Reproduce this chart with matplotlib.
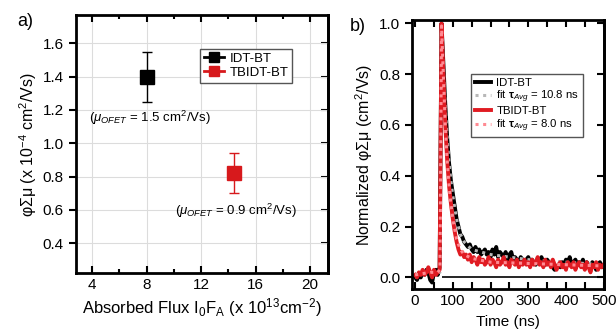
import numpy as np
import matplotlib
matplotlib.use("Agg")
from matplotlib import pyplot as plt
from matplotlib.lines import Line2D
from matplotlib.ticker import MultipleLocator

plt.rcParams["font.family"] = ["Liberation Sans", "DejaVu Sans"]
plt.rcParams["mathtext.fontset"] = "custom"
plt.rcParams["mathtext.rm"] = "Liberation Sans"
plt.rcParams["mathtext.it"] = "Liberation Sans:italic"
plt.rcParams["mathtext.bf"] = "Liberation Sans:bold"

# panel a: phi-sum-mu vs absorbed flux
names = ["IDT-BT", "TBIDT-BT"]
flux = [8.0, 14.4]
phimu = [1.40, 0.82]
phimu_err = [0.15, 0.12]
mu_ofet = [1.5, 0.9]
colors_a = ["black", "#d7191c"]

# panel b: normalized transients, sampled every 5 ns
time_ns = np.arange(0, 505, 5)
idt_bt = [
    0.00, -0.01, 0.01, 0.00, 0.02, 0.01, 0.03, 0.02, -0.01, -0.02,
    0.02, 0.03, 0.01, 0.04, 1.00, 0.84, 0.68, 0.55, 0.45, 0.38,
    0.33, 0.28, 0.23, 0.20, 0.17, 0.16, 0.14, 0.13, 0.12, 0.13,
    0.11, 0.10, 0.12, 0.10, 0.11, 0.09, 0.10, 0.11, 0.09, 0.10,
    0.08, 0.11, 0.09, 0.12, 0.08, 0.10, 0.09, 0.08, 0.10, 0.07,
    0.09, 0.10, 0.07, 0.08, 0.07, 0.06, 0.08, 0.07, 0.06, 0.07,
    0.08, 0.06, 0.07, 0.06, 0.05, 0.07, 0.06, 0.08, 0.06, 0.05,
    0.07, 0.06, 0.05, 0.04, 0.03, 0.04, 0.05, 0.04, 0.06, 0.05,
    0.07, 0.06, 0.08, 0.05, 0.06, 0.07, 0.05, 0.06, 0.05, 0.07,
    0.04, 0.06, 0.05, 0.04, 0.06, 0.05, 0.03, 0.05, 0.06, 0.04,
    0.05,
]
tbidt_bt = [
    0.01, 0.00, 0.02, 0.01, 0.03, 0.01, 0.02, 0.04, 0.02, 0.00,
    0.03, 0.01, 0.02, 0.03, 1.00, 0.80, 0.60, 0.46, 0.36, 0.29,
    0.23, 0.18, 0.14, 0.11, 0.09, 0.10, 0.08, 0.09, 0.07, 0.09,
    0.06, 0.08, 0.07, 0.05, 0.08, 0.06, 0.07, 0.05, 0.06, 0.08,
    0.05, 0.07, 0.06, 0.04, 0.07, 0.05, 0.06, 0.08, 0.05, 0.06,
    0.04, 0.07, 0.06, 0.05, 0.07, 0.04, 0.06, 0.05, 0.07, 0.05,
    0.06, 0.04, 0.07, 0.05, 0.06, 0.08, 0.05, 0.06, 0.04, 0.07,
    0.05, 0.06, 0.04, 0.07, 0.05, 0.03, 0.05, 0.06, 0.04, 0.05,
    0.03, 0.06, 0.05, 0.04, 0.06, 0.03, 0.05, 0.06, 0.04, 0.05,
    0.03, 0.06, 0.04, 0.02, 0.05, 0.04, 0.06, 0.03, 0.05, 0.04,
    0.05,
]
fit_t = [0, 20, 40, 60, 66, 70, 75, 80, 85, 90, 95, 100, 110, 120, 130, 150, 200, 300, 400, 500]
fit_idt = [0.00, 0.01, 0.01, 0.02, 0.02, 0.99, 0.82, 0.67, 0.55, 0.45,
           0.38, 0.32, 0.23, 0.17, 0.14, 0.11, 0.09, 0.07, 0.06, 0.05]
fit_tbidt = [0.01, 0.015, 0.02, 0.02, 0.03, 0.99, 0.79, 0.60, 0.46, 0.36,
             0.29, 0.23, 0.15, 0.11, 0.09, 0.075, 0.06, 0.055, 0.05, 0.045]
tau_avg = [10.8, 8.0]


def style_axes(a, yticks):
    # left ticks point out, the other three sides point in
    for s in a.spines.values():
        s.set_linewidth(2)
    a.tick_params(axis="y", which="both", direction="out", length=5, width=1.5,
                  labelsize=11, right=False)
    a.tick_params(axis="x", which="major", direction="in", length=5, width=1.5,
                  labelsize=11, top=True)
    a.tick_params(axis="x", which="minor", direction="in", length=3, width=1.5, top=True)
    sec = a.secondary_yaxis("right")
    sec.set_yticks(yticks)
    sec.tick_params(direction="in", length=5, width=1.5, labelright=False)
    sec.spines["right"].set_linewidth(2)


fig = plt.figure(figsize=(6.16, 3.29), dpi=100)

# ---- a) ----
ax = fig.add_axes([0.123, 0.170, 0.409, 0.784])
for n, x, y, e, c in zip(names, flux, phimu, phimu_err, colors_a):
    ax.errorbar(x, y, yerr=e, fmt="s", color=c, ms=9.5, elinewidth=1.0,
                capsize=3.5, capthick=1.0, label=n)
ax.text(3.75, 1.15, r"($\mu_{OFET}$ = %.1f cm$^2$/Vs)" % mu_ofet[0], fontsize=9.5, va="center")
ax.text(10.1, 0.596, r"($\mu_{OFET}$ = %.1f cm$^2$/Vs)" % mu_ofet[1], fontsize=9.5, va="center")
ax.set_xlim(2.8, 21.3)
ax.set_ylim(0.22, 1.77)
a_yticks = [0.4, 0.6, 0.8, 1.0, 1.2, 1.4, 1.6]
ax.set_xticks([4, 8, 12, 16, 20])
ax.xaxis.set_minor_locator(MultipleLocator(2))
ax.set_yticks(a_yticks)
ax.grid(color="#dcdcdc", lw=0.8)
ax.set_axisbelow(True)
style_axes(ax, a_yticks)
ax.set_xlabel(r"Absorbed Flux I$_0$F$_\mathrm{A}$ (x 10$^{13}$cm$^{-2}$)", fontsize=12, labelpad=3)
ax.set_ylabel(r"φΣμ (x 10$^{-4}$ cm$^2$/Vs)", fontsize=11.5, labelpad=3)
handles = [Line2D([], [], color=c, marker="s", ms=7, lw=2) for c in colors_a]
ax.legend(handles, names, loc="upper right", bbox_to_anchor=(0.885, 0.895), fontsize=9.5,
          handlelength=1.5, handletextpad=0.4, borderpad=0.3, labelspacing=0.1,
          fancybox=False, framealpha=1, edgecolor="#555555")
fig.text(0.028, 0.92, "a)", fontsize=13)

# ---- b) ----
bx = fig.add_axes([0.669, 0.122, 0.311, 0.817])
bx.hlines(0, 70, 500, color="black", lw=1.2)
bx.plot(time_ns, idt_bt, color="black", lw=2.8, label="IDT-BT")
bx.plot(fit_t, fit_idt, color="#b8b8b8", lw=2.2, ls=(0, (1, 1.5)),
        label=r"fit $\mathbf{\tau}_{Avg}$ = %.1f ns" % tau_avg[0])
bx.plot(time_ns, tbidt_bt, color="#e01b22", lw=2.8, label="TBIDT-BT")
bx.plot(fit_t, fit_tbidt, color="#ff8a92", lw=2.2, ls=(0, (1, 1.5)),
        label=r"fit $\mathbf{\tau}_{Avg}$ = %.1f ns" % tau_avg[1])
bx.set_xlim(-8, 500)
bx.set_ylim(-0.045, 1.013)
b_yticks = [0.0, 0.2, 0.4, 0.6, 0.8, 1.0]
bx.set_xticks([0, 100, 200, 300, 400, 500])
bx.xaxis.set_minor_locator(MultipleLocator(50))
bx.set_yticks(b_yticks)
style_axes(bx, b_yticks)
bx.tick_params(axis="x", which="minor", length=5)
bx.set_xlabel("Time (ns)", fontsize=11, labelpad=5)
bx.set_ylabel(r"Normalized φΣμ (cm$^2$/Vs)", fontsize=11.5, labelpad=3)
bx.legend(loc="upper left", bbox_to_anchor=(0.28, 0.82), fontsize=8.2,
          handlelength=1.4, handletextpad=0.5, borderpad=0.3, labelspacing=0.1,
          fancybox=False, framealpha=1, edgecolor="#555555")
fig.text(0.568, 0.905, "b)", fontsize=13)

fig.savefig("out.png", dpi=100)
